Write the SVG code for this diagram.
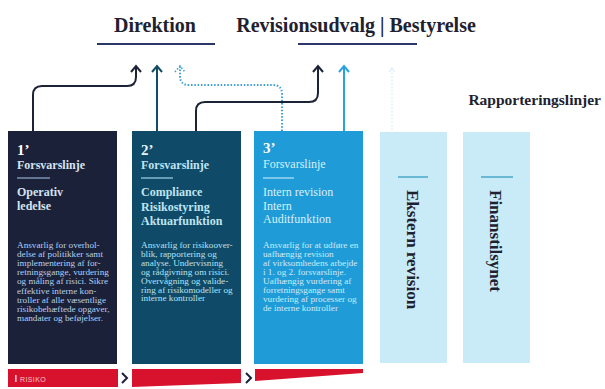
<svg xmlns="http://www.w3.org/2000/svg" width="605" height="389" viewBox="0 0 605 389">
<defs>
<style>
.hd{font-family:"Liberation Serif",serif;font-weight:bold;font-size:20px;fill:#1e2230}
.ul{stroke:#2b3766;stroke-width:2}
.num{font-family:"Liberation Serif",serif;font-weight:bold;font-size:15px}
.sub{font-family:"Liberation Serif",serif;font-weight:bold;font-size:12px}
.body{font-family:"Liberation Serif",serif;font-size:9.2px}
.vt{font-family:"Liberation Serif",serif;font-weight:bold;font-size:17px;fill:#1e2230}
.cn{fill:none;stroke-width:2}
</style>
</defs>
<rect width="605" height="389" fill="#ffffff"/>

<g id="direktion">
<text class="hd" x="155" y="32" text-anchor="middle">Direktion</text>
<line class="ul" x1="97" y1="44" x2="215" y2="44"/>
</g>
<g id="revisionsudvalg">
<text class="hd" x="356" y="32" text-anchor="middle">Revisionsudvalg | Bestyrelse</text>
<line class="ul" x1="298" y1="44" x2="417" y2="44"/>
</g>
<g id="rapporteringslinjer">
<text x="601" y="105" text-anchor="end" style="font-family:'Liberation Serif',serif;font-weight:bold;font-size:15.5px;fill:#1e2230">Rapporteringslinjer</text>
</g>

<g id="connectors">
<path class="cn" stroke="#1c2336" d="M33,131 V95 Q33,86 42,86 H127 Q136,86 136,77 V66"/>
<path d="M131,72 L136,66 L141,72" fill="none" stroke="#1c2336" stroke-width="2"/>
<path class="cn" stroke="#134c66" d="M157,131 V66"/>
<path d="M152,72 L157,66 L162,72" fill="none" stroke="#134c66" stroke-width="2"/>
<path class="cn" stroke="#3d9fd4" stroke-dasharray="1.5 1.8" d="M282,131 V94 Q282,85 273,85 H189 Q180,85 180,76 V66"/>
<path d="M175,72 L180,66 L185,72" fill="none" stroke="#3d9fd4" stroke-width="1.6" stroke-dasharray="1.5 1.8"/>
<path class="cn" stroke="#1c2336" d="M196,131 V111 Q196,102 205,102 H309 Q318,102 318,93 V66"/>
<path d="M313,72 L318,66 L323,72" fill="none" stroke="#1c2336" stroke-width="2"/>
<path class="cn" stroke="#2aa3dc" d="M344,131 V66"/>
<path d="M339,72 L344,66 L349,72" fill="none" stroke="#2aa3dc" stroke-width="2"/>
<path fill="none" stroke="#dcf0f8" stroke-width="1.5" stroke-dasharray="1.5 2" d="M392,130 V68"/>
<path d="M389,72 L392,68 L395,72" fill="none" stroke="#dcf0f8" stroke-width="1.2"/>
</g>

<g id="line1">
<rect x="8" y="131" width="109" height="233" fill="#1b2139"/>
<text class="num" x="17" y="155" fill="#ffffff">1’</text>
<text class="sub" x="17" y="169" fill="#d5e4f3">Forsvarslinje</text>
<line x1="17" y1="178" x2="50" y2="178" stroke="#a9c8ea" stroke-width="1.2"/>
<text class="sub" fill="#d5e4f3"><tspan x="17" y="196">Operativ</tspan><tspan x="17" y="210">ledelse</tspan></text>
<text class="body" fill="#b5d0ef">
<tspan x="17" y="248">Ansvarlig for overhol-</tspan>
<tspan x="17" y="257.1">delse af politikker samt</tspan>
<tspan x="17" y="266.2">implementering af for-</tspan>
<tspan x="17" y="275.3">retningsgange, vurdering</tspan>
<tspan x="17" y="284.4">og måling af risici. Sikre</tspan>
<tspan x="17" y="293.5">effektive interne kon-</tspan>
<tspan x="17" y="302.6">troller af alle væsentlige</tspan>
<tspan x="17" y="311.7">risikobehæftede opgaver,</tspan>
<tspan x="17" y="320.8">mandater og beføjelser.</tspan>
</text>
</g>

<g id="line2">
<rect x="132" y="131" width="109" height="233" fill="#0f4a68"/>
<text class="num" x="141" y="155" fill="#e6f5fb">2’</text>
<text class="sub" x="141" y="169" fill="#bfe5f3">Forsvarslinje</text>
<line x1="141" y1="178" x2="173" y2="178" stroke="#9fd6ec" stroke-width="1.2"/>
<text class="sub" fill="#bfe5f3"><tspan x="141" y="196">Compliance</tspan><tspan x="141" y="210.5">Risikostyring</tspan><tspan x="141" y="225">Aktuarfunktion</tspan></text>
<text class="body" fill="#b7e2f1">
<tspan x="141" y="248">Ansvarlig for risikoover-</tspan>
<tspan x="141" y="256.9">blik, rapportering og</tspan>
<tspan x="141" y="265.8">analyse. Undervisning</tspan>
<tspan x="141" y="274.7">og rådgivning om risici.</tspan>
<tspan x="141" y="283.6">Overvågning og valide-</tspan>
<tspan x="141" y="292.5">ring af risikomodeller og</tspan>
<tspan x="141" y="301.4">interne kontroller</tspan>
</text>
</g>

<g id="line3">
<rect x="254" y="131" width="109" height="233" fill="#1f9bd7"/>
<text class="num" x="263" y="153" fill="#ffffff">3’</text>
<text x="263" y="168" fill="#d9f0fb" style="font-family:'Liberation Serif',serif;font-size:12px">Forsvarslinje</text>
<line x1="263" y1="178" x2="294" y2="178" stroke="#d9f0fb" stroke-width="1"/>
<text fill="#d9f0fb" style="font-family:'Liberation Serif',serif;font-size:12px"><tspan x="263" y="196">Intern revision</tspan><tspan x="263" y="209.5">Intern</tspan><tspan x="263" y="223">Auditfunktion</tspan></text>
<text class="body" fill="#cdebf8">
<tspan x="263" y="248">Ansvarlig for at udføre en</tspan>
<tspan x="263" y="257">uafhængig revision</tspan>
<tspan x="263" y="266">af virksomhedens arbejde</tspan>
<tspan x="263" y="275">i 1. og 2. forsvarslinje.</tspan>
<tspan x="263" y="284">Uafhængig vurdering af</tspan>
<tspan x="263" y="293">forretningsgange samt</tspan>
<tspan x="263" y="302">vurdering af processer og</tspan>
<tspan x="263" y="311">de interne kontroller</tspan>
</text>
</g>

<g id="ekstern-revision">
<rect x="380" y="132" width="67" height="231" fill="#c8ebf7"/>
<line x1="398" y1="177" x2="428" y2="177" stroke="#4aa8c8" stroke-width="1.5"/>
<text class="vt" transform="translate(407,190) rotate(90)">Ekstern revision</text>
</g>
<g id="finanstilsynet">
<rect x="463" y="132" width="67" height="231" fill="#c8ebf7"/>
<line x1="481" y1="177" x2="513" y2="177" stroke="#4aa8c8" stroke-width="1.5"/>
<text class="vt" transform="translate(490,190) rotate(90)">Finanstilsynet</text>
</g>

<g id="risiko">
<rect x="8" y="369" width="110" height="18" fill="#d8122c"/>
<rect x="15" y="375" width="1.6" height="7" fill="#f6c2ca"/>
<text x="20" y="381.5" fill="#f6c2ca" style="font-family:'Liberation Sans',sans-serif;font-size:7px;letter-spacing:0.4px">RISIKO</text>
<path d="M122,373 L127,378 L122,383" fill="none" stroke="#1b2139" stroke-width="2"/>
<path d="M132,369 H241 V383 L132,387 Z" fill="#d8122c"/>
<path d="M246,373 L251,378 L246,383" fill="none" stroke="#1b2139" stroke-width="2"/>
<path d="M255,369 H363 V373 L255,381 Z" fill="#d8122c"/>
</g>
</svg>
